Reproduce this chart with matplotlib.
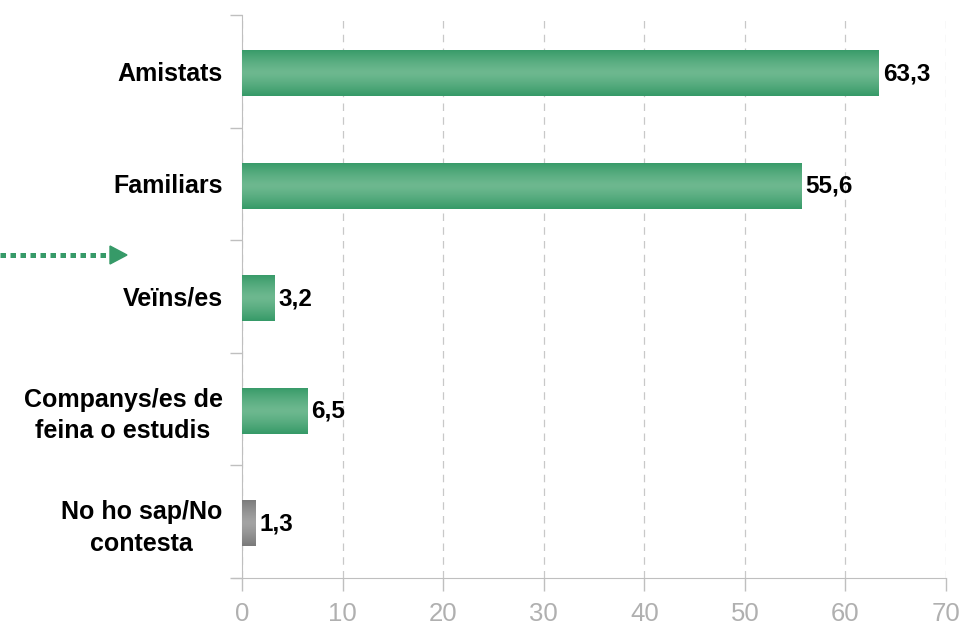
import numpy as np
import matplotlib.pyplot as plt
from matplotlib.colors import LinearSegmentedColormap
from matplotlib.patches import Polygon
from matplotlib.lines import Line2D

plt.rcParams['font.family'] = ['Liberation Sans', 'DejaVu Sans']

# Data
categories = ['Amistats', 'Familiars', 'Veïns/es',
              'Companys/es de\nfeina o estudis', 'No ho sap/No\ncontesta']
values = [63.3, 55.6, 3.2, 6.5, 1.3]
value_labels = ['63,3', '55,6', '3,2', '6,5', '1,3']
xticks = [0, 10, 20, 30, 40, 50, 60, 70]

green_edge = '#369a68'
green_mid = '#6db88f'
gray_edge = '#7a7a7a'
gray_mid = '#a3a3a3'

fig = plt.figure(figsize=(9.62, 6.27), dpi=100)
ax = fig.add_axes([242 / 962, 1 - 578 / 627, (946 - 242) / 962, (578 - 15) / 627])

y = np.arange(len(categories))
bar_h = 0.41
bars = ax.barh(y + 0.015, values, height=bar_h, color='none', edgecolor='none', zorder=3)

# gradient fill (dark at top/bottom, light in the middle)
grad = np.abs(np.linspace(-1, 1, 64)) ** 1.3
grad = grad.reshape(-1, 1)
for i, b in enumerate(bars):
    if i == len(bars) - 1:
        cmap = LinearSegmentedColormap.from_list('g', [gray_mid, gray_edge])
    else:
        cmap = LinearSegmentedColormap.from_list('g', [green_mid, green_edge])
    x0, y0 = b.get_x(), b.get_y()
    w, h = b.get_width(), b.get_height()
    im = ax.imshow(grad, cmap=cmap, aspect='auto', extent=[x0, x0 + w, y0 + h, y0],
                   zorder=3, interpolation='bicubic')
    im.set_clip_path(b)

for i, v in enumerate(values):
    ax.annotate(value_labels[i], (v, i + 0.02), xytext=(3, 0), textcoords='offset points',
                va='center', ha='left', fontsize=17.5, fontweight='bold', color='black')

ax.set_xlim(0, 70)
ax.set_ylim(len(categories) - 0.5, -0.5)
ax.set_xticks(xticks)
ax.set_xticklabels([str(t) for t in xticks], fontsize=18.5, color='#b0b0b0')
ax.set_yticks(y)
ax.set_yticklabels(categories, fontsize=18, fontweight='bold', ha='right',
                   multialignment='center', linespacing=1.4)
ax.tick_params(axis='y', length=0, pad=14)
ax.set_yticks(np.arange(-0.5, len(categories)), minor=True)
ax.tick_params(axis='y', which='minor', length=9, color='#bfbfbf', width=1)
ax.tick_params(axis='x', length=9, color='#bfbfbf', width=1, pad=8)

ax.grid(axis='x', color='#c8c8c8', linestyle=(0, (6, 5)), linewidth=0.9, zorder=0)
for s in ['top', 'right']:
    ax.spines[s].set_visible(False)
ax.spines['left'].set_color('#bfbfbf')
ax.spines['bottom'].set_color('#bfbfbf')
ax.spines['bottom'].set_bounds(-0.9, 70)

# dotted arrow on the left
fy = 1 - 255 / 627
fig.add_artist(Line2D([0, 110 / 962], [fy, fy], transform=fig.transFigure,
                      color=green_edge, linewidth=3.6, linestyle=(0, (1.1, 0.9)),
                      solid_capstyle='butt', dash_capstyle='butt'))
fig.add_artist(Polygon([[110 / 962, 1 - 246 / 627], [127 / 962, fy], [110 / 962, 1 - 264 / 627]],
                       closed=True, transform=fig.transFigure, color=green_edge))

fig.savefig('out.png', dpi=100)
